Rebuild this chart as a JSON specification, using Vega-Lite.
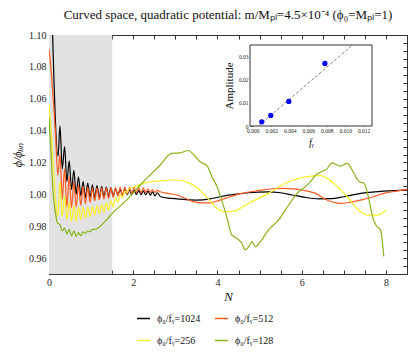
{
 "$schema": "https://vega.github.io/schema/vega-lite/v6.json",
 "width": 358,
 "height": 239,
 "autosize": {"type": "none"},
 "padding": {"left": 49, "top": 35, "right": 4, "bottom": 84},
 "background": "white",
 "config": {
  "view": {"stroke": "#333", "strokeWidth": 1},
  "font": "Liberation Serif",
  "axis": {"grid": false, "labelFont": "Liberation Serif", "titleFont": "Liberation Serif", "domainColor": "#333", "tickColor": "#333", "labelColor": "#222", "titleColor": "#111", "titleFontWeight": "normal", "zindex": 1}
 },
 "title": {"text": "Curved space, quadratic potential: m/Mₚₗ=4.5×10⁻⁴ (ϕ₀=Mₚₗ=1)", "font": "Liberation Serif", "fontSize": 13, "fontWeight": "normal", "color": "#111", "offset": 8, "anchor": "middle", "frame": "group"},
 "datasets": {
  "curves": [
   {"s":"1024","N":0.07,"v":1.115},{"s":"1024","N":0.215,"v":1.024},{"s":"1024","N":0.26,"v":1.043},{"s":"1024","N":0.315,"v":1.016},{"s":"1024","N":0.37,"v":1.030},{"s":"1024","N":0.425,"v":1.008},{"s":"1024","N":0.48,"v":1.021},{"s":"1024","N":0.535,"v":1.003},{"s":"1024","N":0.59,"v":1.015},{"s":"1024","N":0.645,"v":1.000},{"s":"1024","N":0.70,"v":1.011},{"s":"1024","N":0.755,"v":0.999},{"s":"1024","N":0.81,"v":1.008},{"s":"1024","N":0.865,"v":0.998},{"s":"1024","N":0.92,"v":1.007},{"s":"1024","N":0.975,"v":0.998},{"s":"1024","N":1.03,"v":1.006},{"s":"1024","N":1.085,"v":0.998},{"s":"1024","N":1.14,"v":1.0055},{"s":"1024","N":1.195,"v":0.998},{"s":"1024","N":1.25,"v":1.005},{"s":"1024","N":1.305,"v":0.9985},{"s":"1024","N":1.36,"v":1.0045},{"s":"1024","N":1.415,"v":0.999},{"s":"1024","N":1.47,"v":1.004},{"s":"1024","N":1.525,"v":0.999},{"s":"1024","N":1.58,"v":1.0035},{"s":"1024","N":1.635,"v":0.9995},{"s":"1024","N":1.69,"v":1.003},{"s":"1024","N":1.745,"v":0.9995},{"s":"1024","N":1.80,"v":1.003},{"s":"1024","N":1.855,"v":0.9998},{"s":"1024","N":1.91,"v":1.0028},{"s":"1024","N":1.965,"v":0.9998},{"s":"1024","N":2.02,"v":1.0026},{"s":"1024","N":2.075,"v":0.9998},{"s":"1024","N":2.13,"v":1.0024},{"s":"1024","N":2.185,"v":0.9998},{"s":"1024","N":2.24,"v":1.0022},{"s":"1024","N":2.295,"v":0.9996},{"s":"1024","N":2.35,"v":1.002},{"s":"1024","N":2.405,"v":0.9994},{"s":"1024","N":2.46,"v":1.0015},{"s":"1024","N":2.515,"v":0.999},{"s":"1024","N":2.57,"v":1.001},{"s":"1024","N":2.65,"v":0.9985},{"s":"1024","N":2.9,"v":0.9975},{"s":"1024","N":3.1,"v":0.997},{"s":"1024","N":3.5,"v":0.9964},{"s":"1024","N":3.8,"v":0.997},{"s":"1024","N":4.06,"v":0.9985},{"s":"1024","N":4.4,"v":1.0},{"s":"1024","N":4.73,"v":1.001},{"s":"1024","N":5.2,"v":1.0016},{"s":"1024","N":5.5,"v":1.001},{"s":"1024","N":5.77,"v":0.9996},{"s":"1024","N":6.1,"v":0.998},{"s":"1024","N":6.4,"v":0.9972},{"s":"1024","N":6.7,"v":0.9973},{"s":"1024","N":7.0,"v":0.9985},{"s":"1024","N":7.4,"v":1.0006},{"s":"1024","N":7.95,"v":1.002},{"s":"1024","N":8.5,"v":1.0027},
   {"s":"512","N":0,"v":1.091},{"s":"512","N":0.05,"v":1.078},{"s":"512","N":0.1,"v":1.06},{"s":"512","N":0.15,"v":1.04},{"s":"512","N":0.21,"v":1.012},{"s":"512","N":0.26,"v":1.025},{"s":"512","N":0.315,"v":0.997},{"s":"512","N":0.37,"v":1.016},{"s":"512","N":0.425,"v":0.992},{"s":"512","N":0.48,"v":1.011},{"s":"512","N":0.535,"v":0.9915},{"s":"512","N":0.59,"v":1.008},{"s":"512","N":0.645,"v":0.992},{"s":"512","N":0.70,"v":1.006},{"s":"512","N":0.755,"v":0.993},{"s":"512","N":0.81,"v":1.005},{"s":"512","N":0.865,"v":0.994},{"s":"512","N":0.92,"v":1.0045},{"s":"512","N":0.975,"v":0.995},{"s":"512","N":1.03,"v":1.004},{"s":"512","N":1.085,"v":0.996},{"s":"512","N":1.14,"v":1.004},{"s":"512","N":1.195,"v":0.9965},{"s":"512","N":1.25,"v":1.004},{"s":"512","N":1.305,"v":0.997},{"s":"512","N":1.36,"v":1.004},{"s":"512","N":1.415,"v":0.9975},{"s":"512","N":1.47,"v":1.004},{"s":"512","N":1.525,"v":0.998},{"s":"512","N":1.58,"v":1.0042},{"s":"512","N":1.635,"v":0.9988},{"s":"512","N":1.69,"v":1.0044},{"s":"512","N":1.745,"v":0.9995},{"s":"512","N":1.80,"v":1.0045},{"s":"512","N":1.855,"v":1.0},{"s":"512","N":1.91,"v":1.0046},{"s":"512","N":1.965,"v":1.0005},{"s":"512","N":2.02,"v":1.0045},{"s":"512","N":2.075,"v":1.001},{"s":"512","N":2.13,"v":1.0043},{"s":"512","N":2.185,"v":1.001},{"s":"512","N":2.24,"v":1.004},{"s":"512","N":2.295,"v":1.0012},{"s":"512","N":2.35,"v":1.0035},{"s":"512","N":2.405,"v":1.0012},{"s":"512","N":2.46,"v":1.003},{"s":"512","N":2.515,"v":1.0012},{"s":"512","N":2.57,"v":1.0025},{"s":"512","N":2.64,"v":1.0016},{"s":"512","N":2.85,"v":1.0005},{"s":"512","N":3.03,"v":0.9996},{"s":"512","N":3.2,"v":0.998},{"s":"512","N":3.42,"v":0.9954},{"s":"512","N":3.65,"v":0.9946},{"s":"512","N":3.83,"v":0.9947},{"s":"512","N":4.06,"v":0.9964},{"s":"512","N":4.3,"v":0.9985},{"s":"512","N":4.58,"v":1.0006},{"s":"512","N":4.97,"v":1.0023},{"s":"512","N":5.3,"v":1.0035},{"s":"512","N":5.53,"v":1.0038},{"s":"512","N":5.8,"v":1.0034},{"s":"512","N":6.0,"v":1.0027},{"s":"512","N":6.33,"v":1.0006},{"s":"512","N":6.6,"v":0.9964},{"s":"512","N":6.92,"v":0.9943},{"s":"512","N":7.15,"v":0.995},{"s":"512","N":7.4,"v":0.9964},{"s":"512","N":7.7,"v":0.9985},{"s":"512","N":7.95,"v":1.0006},{"s":"512","N":8.25,"v":1.002},{"s":"512","N":8.51,"v":1.0031},
   {"s":"256","N":0,"v":1.056},{"s":"256","N":0.05,"v":1.04},{"s":"256","N":0.1,"v":1.018},{"s":"256","N":0.16,"v":0.995},{"s":"256","N":0.21,"v":0.986},{"s":"256","N":0.26,"v":1.008},{"s":"256","N":0.315,"v":0.986},{"s":"256","N":0.37,"v":0.999},{"s":"256","N":0.425,"v":0.984},{"s":"256","N":0.48,"v":0.995},{"s":"256","N":0.535,"v":0.983},{"s":"256","N":0.59,"v":0.993},{"s":"256","N":0.645,"v":0.983},{"s":"256","N":0.70,"v":0.992},{"s":"256","N":0.755,"v":0.984},{"s":"256","N":0.81,"v":0.992},{"s":"256","N":0.865,"v":0.985},{"s":"256","N":0.92,"v":0.992},{"s":"256","N":0.975,"v":0.986},{"s":"256","N":1.03,"v":0.9925},{"s":"256","N":1.085,"v":0.987},{"s":"256","N":1.14,"v":0.993},{"s":"256","N":1.195,"v":0.988},{"s":"256","N":1.25,"v":0.9935},{"s":"256","N":1.305,"v":0.989},{"s":"256","N":1.36,"v":0.9945},{"s":"256","N":1.415,"v":0.990},{"s":"256","N":1.47,"v":0.996},{"s":"256","N":1.525,"v":0.992},{"s":"256","N":1.58,"v":0.998},{"s":"256","N":1.635,"v":0.995},{"s":"256","N":1.69,"v":1.0},{"s":"256","N":1.745,"v":0.998},{"s":"256","N":1.80,"v":1.002},{"s":"256","N":1.855,"v":1.001},{"s":"256","N":1.91,"v":1.004},{"s":"256","N":2.0,"v":1.0045},{"s":"256","N":2.24,"v":1.0069},{"s":"256","N":2.64,"v":1.0085},{"s":"256","N":3.03,"v":1.009},{"s":"256","N":3.35,"v":1.0069},{"s":"256","N":3.66,"v":1.0006},{"s":"256","N":3.85,"v":0.995},{"s":"256","N":4.0,"v":0.991},{"s":"256","N":4.2,"v":0.989},{"s":"256","N":4.4,"v":0.9895},{"s":"256","N":4.73,"v":0.9943},{"s":"256","N":5.21,"v":1.0006},{"s":"256","N":5.69,"v":1.0079},{"s":"256","N":6.09,"v":1.011},{"s":"256","N":6.45,"v":1.0118},{"s":"256","N":6.76,"v":1.007},{"s":"256","N":7.08,"v":0.9985},{"s":"256","N":7.4,"v":0.989},{"s":"256","N":7.56,"v":0.987},{"s":"256","N":7.8,"v":0.987},{"s":"256","N":8.0,"v":0.990},
   {"s":"128","N":0,"v":1.048},{"s":"128","N":0.05,"v":1.025},{"s":"128","N":0.1,"v":1.0},{"s":"128","N":0.15,"v":0.989},{"s":"128","N":0.2,"v":0.982},{"s":"128","N":0.26,"v":0.981},{"s":"128","N":0.315,"v":0.977},{"s":"128","N":0.37,"v":0.979},{"s":"128","N":0.425,"v":0.975},{"s":"128","N":0.48,"v":0.978},{"s":"128","N":0.535,"v":0.974},{"s":"128","N":0.59,"v":0.977},{"s":"128","N":0.645,"v":0.9735},{"s":"128","N":0.70,"v":0.976},{"s":"128","N":0.755,"v":0.974},{"s":"128","N":0.81,"v":0.9765},{"s":"128","N":0.865,"v":0.9755},{"s":"128","N":0.92,"v":0.977},{"s":"128","N":0.975,"v":0.9765},{"s":"128","N":1.03,"v":0.978},{"s":"128","N":1.085,"v":0.978},{"s":"128","N":1.2,"v":0.9795},{"s":"128","N":1.33,"v":0.983},{"s":"128","N":1.52,"v":0.9885},{"s":"128","N":1.84,"v":0.9964},{"s":"128","N":2.24,"v":1.0079},{"s":"128","N":2.64,"v":1.0184},{"s":"128","N":2.91,"v":1.0257},{"s":"128","N":3.11,"v":1.026},{"s":"128","N":3.31,"v":1.0275},{"s":"128","N":3.43,"v":1.025},{"s":"128","N":3.59,"v":1.0204},{"s":"128","N":3.75,"v":1.018},{"s":"128","N":3.87,"v":1.011},{"s":"128","N":3.99,"v":1.0048},{"s":"128","N":4.1,"v":0.9964},{"s":"128","N":4.22,"v":0.986},{"s":"128","N":4.34,"v":0.9745},{"s":"128","N":4.46,"v":0.9724},{"s":"128","N":4.58,"v":0.9693},{"s":"128","N":4.66,"v":0.9651},{"s":"128","N":4.74,"v":0.967},{"s":"128","N":4.82,"v":0.9703},{"s":"128","N":4.9,"v":0.9671},{"s":"128","N":5.02,"v":0.9703},{"s":"128","N":5.21,"v":0.9776},{"s":"128","N":5.45,"v":0.9839},{"s":"128","N":5.69,"v":0.9933},{"s":"128","N":5.89,"v":1.0006},{"s":"128","N":6.09,"v":1.005},{"s":"128","N":6.21,"v":1.008},{"s":"128","N":6.33,"v":1.012},{"s":"128","N":6.45,"v":1.014},{"s":"128","N":6.6,"v":1.016},{"s":"128","N":6.72,"v":1.0198},{"s":"128","N":6.92,"v":1.0177},{"s":"128","N":7.08,"v":1.0194},{"s":"128","N":7.24,"v":1.0132},{"s":"128","N":7.36,"v":1.008},{"s":"128","N":7.48,"v":1.0069},{"s":"128","N":7.6,"v":0.9964},{"s":"128","N":7.68,"v":0.986},{"s":"128","N":7.76,"v":0.9808},{"s":"128","N":7.87,"v":0.9776},{"s":"128","N":7.95,"v":0.961}
  ],
  "amp": [
   {"f": 0.000977, "a": 0.0018},
   {"f": 0.00195, "a": 0.0046},
   {"f": 0.0039, "a": 0.0107},
   {"f": 0.0078, "a": 0.0272}
  ],
  "fit": [
   {"f": 0.0006, "a": 0},
   {"f": 0.01074, "a": 0.035}
  ]
 },
 "layer": [
  {
   "layer": [
    {
     "data": {"values": [{}]},
     "mark": {"type": "rect", "color": "#e2e2e2"},
     "encoding": {
      "x": {"datum": 0, "type": "quantitative", "axis": null},
      "x2": {"datum": 1.5}
     }
    },
    {
     "data": {"name": "curves"},
     "mark": {"type": "line", "strokeWidth": 1.2, "clip": true, "interpolate": "monotone"},
     "encoding": {
      "x": {"field": "N", "type": "quantitative", "scale": {"domain": [0, 8.5], "nice": false, "zero": false},
       "axis": {"orient": "bottom", "values": [0,0.5,1,1.5,2,2.5,3,3.5,4,4.5,5,5.5,6,6.5,7,7.5,8,8.5], "labelExpr": "datum.value % 2 == 0 ? format(datum.value, 'd') : ''", "tickSize": -4, "labelPadding": 7, "labelFontSize": 10, "labelFlush": false, "labelOverlap": false, "title": "N", "titleFontStyle": "italic", "titleFontSize": 13, "titlePadding": 3}},
      "y": {"field": "v", "type": "quantitative", "scale": {"domain": [0.95, 1.10], "nice": false, "zero": false},
       "axis": {"orient": "left", "values": [0.95,0.955,0.96,0.965,0.97,0.975,0.98,0.985,0.99,0.995,1,1.005,1.01,1.015,1.02,1.025,1.03,1.035,1.04,1.045,1.05,1.055,1.06,1.065,1.07,1.075,1.08,1.085,1.09,1.095,1.1], "labelExpr": "round(datum.value*1000) % 20 == 0 ? format(datum.value, '.2f') : ''", "tickSize": -4, "labelPadding": 7, "labelFontSize": 10, "labelOverlap": false, "title": "ϕ/ϕₗᵢₙ", "titleFontStyle": "italic", "titleFontSize": 12, "titlePadding": 4}},
      "color": {"field": "s", "type": "nominal",
       "scale": {"domain": ["1024","512","256","128"], "range": ["#000000","#ff5a1f","#fbf028","#8ab21b"]},
       "legend": {"orient": "none", "legendX": 87, "legendY": 276, "direction": "horizontal", "columns": 2, "gridAlign": "none", "symbolType": "stroke", "symbolStrokeWidth": 1.5, "symbolSize": 170, "labelFont": "Liberation Serif", "labelFontSize": 10, "labelColor": "#111", "labelOffset": 6, "columnPadding": 10, "rowPadding": 9, "title": null, "labelExpr": "'ϕ₀/fᵧ=' + datum.label"}}
     }
    },
    {
     "data": {"name": "curves"},
     "mark": {"type": "point", "opacity": 0, "clip": true},
     "encoding": {
      "x": {"field": "N", "type": "quantitative",
       "axis": {"orient": "top", "values": [0,0.5,1,1.5,2,2.5,3,3.5,4,4.5,5,5.5,6,6.5,7,7.5,8,8.5], "labels": false, "tickSize": -4, "title": null}},
      "y": {"field": "v", "type": "quantitative",
       "axis": {"orient": "right", "values": [0.95,0.955,0.96,0.965,0.97,0.975,0.98,0.985,0.99,0.995,1,1.005,1.01,1.015,1.02,1.025,1.03,1.035,1.04,1.045,1.05,1.055,1.06,1.065,1.07,1.075,1.08,1.085,1.09,1.095,1.1], "labels": false, "tickSize": -4, "title": null}}
     }
    }
   ],
   "resolve": {"axis": {"x": "independent", "y": "independent"}}
  },
  {
   "layer": [
    {
     "data": {"values": [{}]},
     "mark": {"type": "rect", "fill": "white", "stroke": "#333", "strokeWidth": 1},
     "encoding": {
      "x": {"datum": -0.0003, "type": "quantitative",
       "scale": {"domain": [-0.0003, 0.0129], "range": [201, 323], "nice": false, "zero": false},
       "axis": {"orient": "bottom", "offset": -148, "values": [0,0.002,0.004,0.006,0.008,0.01,0.012], "format": ".3f", "labelFontSize": 5.5, "tickSize": -2, "labelPadding": 4, "domain": false, "labelFlush": false, "labelOverlap": false, "title": "fᵧ", "titleFontStyle": "italic", "titleFontSize": 10, "titlePadding": 4}},
      "x2": {"datum": 0.0129},
      "y": {"datum": 0, "type": "quantitative",
       "scale": {"domain": [0, 0.0352], "range": [91, 10], "nice": false, "zero": false},
       "axis": {"orient": "left", "offset": -201, "values": [0,0.01,0.02,0.03], "labelExpr": "datum.value == 0 ? '0' : format(datum.value, '.2f')", "labelFontSize": 5.5, "tickSize": -2, "labelPadding": 4, "domain": false, "labelOverlap": false, "title": "Amplitude", "titleFontSize": 11, "titlePadding": 4}},
      "y2": {"datum": 0.0352}
     }
    },
    {
     "data": {"name": "fit"},
     "mark": {"type": "line", "color": "#808080", "strokeDash": [3, 2], "strokeWidth": 1},
     "encoding": {
      "x": {"field": "f", "type": "quantitative"},
      "y": {"field": "a", "type": "quantitative"}
     }
    },
    {
     "data": {"name": "amp"},
     "mark": {"type": "circle", "color": "#0000ff", "size": 28, "opacity": 1},
     "encoding": {
      "x": {"field": "f", "type": "quantitative"},
      "y": {"field": "a", "type": "quantitative"}
     }
    }
   ]
  }
 ],
 "resolve": {"scale": {"x": "independent", "y": "independent"}}
}
